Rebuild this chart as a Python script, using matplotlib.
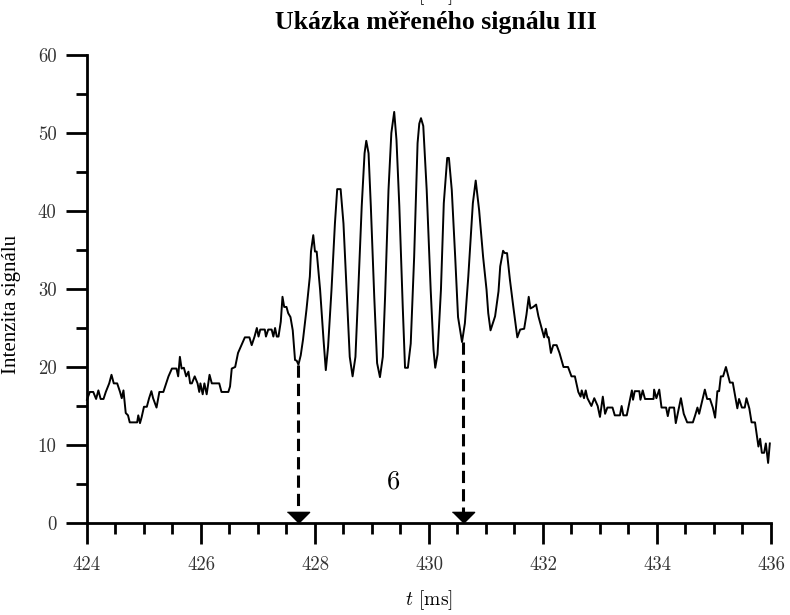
import numpy as np
import matplotlib.pyplot as plt
from matplotlib.ticker import MultipleLocator

plt.rcParams['font.family'] = ['cmr10', 'Liberation Serif']
plt.rcParams['mathtext.fontset'] = 'cm'
plt.rcParams['axes.formatter.use_mathtext'] = False

# signal (time in ms, intensity)
t_ms = [
    424.00, 424.05, 424.11, 424.16, 424.20, 424.24, 424.29, 424.33, 424.39, 424.43,
    424.47, 424.53, 424.58, 424.61, 424.64, 424.68, 424.72, 424.75, 424.88, 424.90,
    424.93, 424.96, 425.00, 425.05, 425.09, 425.13, 425.16, 425.22, 425.27, 425.34,
    425.39, 425.43, 425.49, 425.57, 425.60, 425.63, 425.66, 425.70, 425.74, 425.78,
    425.81, 425.84, 425.89, 425.94, 425.97, 425.99, 426.03, 426.06, 426.10, 426.15,
    426.19, 426.32, 426.36, 426.48, 426.51, 426.54, 426.60, 426.65, 426.71, 426.77,
    426.85, 426.89, 426.94, 426.98, 427.01, 427.04, 427.12, 427.14, 427.18, 427.24,
    427.27, 427.30, 427.33, 427.36, 427.40, 427.43, 427.46, 427.50, 427.53, 427.57,
    427.61, 427.65, 427.68, 427.71, 427.75, 427.79, 427.85, 427.91, 427.93, 427.97,
    428.00, 428.03, 428.09, 428.15, 428.19, 428.23, 428.29, 428.35, 428.39, 428.45,
    428.50, 428.56, 428.61, 428.66, 428.71, 428.76, 428.82, 428.87, 428.90, 428.94,
    428.98, 429.04, 429.09, 429.14, 429.19, 429.23, 429.29, 429.34, 429.39, 429.43,
    429.48, 429.54, 429.58, 429.63, 429.68, 429.74, 429.80, 429.83, 429.86, 429.90,
    429.96, 430.03, 430.08, 430.11, 430.15, 430.21, 430.26, 430.32, 430.35, 430.40,
    430.46, 430.51, 430.58, 430.63, 430.69, 430.77, 430.82, 430.88, 430.95, 431.01,
    431.04, 431.08, 431.16, 431.22, 431.25, 431.30, 431.33, 431.37, 431.42, 431.48,
    431.55, 431.60, 431.67, 431.71, 431.75, 431.78, 431.83, 431.88, 431.92, 431.98,
    432.02, 432.05, 432.08, 432.10, 432.14, 432.18, 432.24, 432.29, 432.36, 432.44,
    432.50, 432.56, 432.62, 432.66, 432.68, 432.72, 432.75, 432.78, 432.85, 432.90,
    432.96, 433.00, 433.05, 433.09, 433.13, 433.22, 433.26, 433.35, 433.38, 433.41,
    433.47, 433.56, 433.58, 433.61, 433.69, 433.71, 433.75, 433.79, 433.94, 433.95,
    433.99, 434.04, 434.08, 434.16, 434.19, 434.22, 434.30, 434.33, 434.42, 434.47,
    434.53, 434.63, 434.67, 434.71, 434.74, 434.84, 434.88, 434.93, 434.98, 435.02,
    435.06, 435.09, 435.12, 435.16, 435.21, 435.28, 435.33, 435.41, 435.44, 435.49,
    435.54, 435.57, 435.62, 435.66, 435.72, 435.78, 435.81, 435.84, 435.88, 435.91,
    435.95, 435.98,
]
intensity = [
    15.8, 16.8, 16.8, 15.9, 17.0, 15.9, 15.9, 16.8, 17.9, 19.0,
    17.9, 17.9, 16.8, 16.0, 17.0, 14.1, 13.8, 12.9, 12.9, 13.8,
    12.8, 13.6, 14.9, 14.9, 16.0, 16.9, 16.0, 14.8, 16.8, 16.8,
    17.9, 18.8, 19.8, 19.8, 18.8, 21.3, 19.8, 19.9, 18.8, 19.4,
    17.9, 17.9, 18.8, 17.9, 16.8, 17.9, 16.5, 17.9, 16.5, 19.0,
    17.9, 17.9, 16.8, 16.8, 17.5, 19.8, 20.0, 21.8, 22.8, 23.8,
    23.8, 22.8, 23.9, 25.0, 23.9, 24.8, 24.8, 23.9, 24.8, 24.8,
    23.9, 25.0, 23.9, 23.9, 25.8, 29.0, 27.7, 27.7, 26.9, 26.4,
    24.7, 20.9, 20.8, 20.3, 21.5, 23.5, 27.3, 31.6, 34.8, 36.9,
    34.8, 34.8, 29.9, 23.5, 19.6, 22.6, 29.9, 38.4, 42.8, 42.8,
    38.4, 29.0, 21.3, 18.8, 21.3, 29.9, 40.6, 47.4, 49.0, 47.4,
    40.6, 29.0, 20.5, 18.7, 21.3, 29.0, 42.7, 50.0, 52.7, 49.1,
    40.6, 27.7, 19.9, 19.9, 23.0, 34.1, 48.7, 51.2, 51.9, 50.9,
    42.7, 29.9, 22.2, 19.9, 21.6, 29.9, 41.0, 46.8, 46.8, 42.7,
    34.1, 26.4, 23.2, 25.6, 31.6, 41.0, 43.9, 40.1, 34.1, 29.9,
    26.9, 24.7, 26.5, 29.7, 32.9, 34.9, 34.6, 34.6, 31.2, 27.7,
    23.8, 24.8, 24.9, 26.7, 29.0, 27.5, 27.7, 28.0, 26.5, 24.9,
    23.8, 24.9, 23.8, 23.8, 21.8, 22.8, 22.8, 21.8, 20.0, 20.0,
    18.8, 18.8, 16.8, 16.2, 17.0, 16.0, 17.0, 16.0, 15.0, 16.0,
    15.0, 13.6, 16.2, 14.0, 14.8, 14.8, 13.8, 13.8, 15.0, 13.8,
    13.8, 17.0, 15.8, 16.9, 16.9, 15.8, 17.0, 15.9, 15.9, 17.1,
    16.0, 17.1, 14.8, 14.8, 13.7, 14.8, 14.8, 12.8, 16.0, 14.0,
    12.9, 12.9, 13.8, 14.8, 14.0, 17.1, 15.9, 15.9, 14.8, 13.5,
    16.9, 16.9, 18.8, 18.8, 20.0, 18.0, 18.0, 14.7, 15.9, 14.8,
    14.8, 16.0, 14.7, 12.9, 12.9, 9.8, 10.8, 9.0, 9.0, 10.2,
    7.7, 10.2,
]

# marked minima (dashed arrows down to the axis)
arrow_t = [427.70, 430.59]
arrow_top = [20.3, 23.2]
period_label = "6"
period_pos = (429.37, 5.3)

fig = plt.figure(figsize=(7.9, 6.15), dpi=100)
ax = fig.add_axes([0.1101, 0.1496, 0.8658, 0.7610])

ax.plot(t_ms, intensity, color="black", linewidth=1.4, clip_on=False)

# dashed lines + filled triangle heads with the tip on the axis
tri = [(-1.0, 1.0), (1.0, 1.0), (0.0, 0.0)]
for t, top in zip(arrow_t, arrow_top):
    ax.plot([t, t], [top, 0.6], color="black", linewidth=2.2, dashes=(4, 2))
    ax.plot([t], [0], marker=tri, markersize=16, color="black",
            linestyle="none", clip_on=False, zorder=5)

ax.text(period_pos[0], period_pos[1], period_label, ha="center", va="center",
        fontsize=19, family="cmr10")

ax.set_xlim(424, 436)
ax.set_ylim(0, 60)
ax.xaxis.set_major_locator(MultipleLocator(2))
ax.xaxis.set_minor_locator(MultipleLocator(0.5))
ax.yaxis.set_major_locator(MultipleLocator(10))
ax.yaxis.set_minor_locator(MultipleLocator(5))

for side in ["top", "right"]:
    ax.spines[side].set_visible(False)
for side in ["left", "bottom"]:
    ax.spines[side].set_linewidth(2)
ax.tick_params(which="major", length=15, width=2, labelsize=13.5, pad=7,
               colors="black", labelcolor="#333333")
ax.tick_params(which="minor", length=8, width=2)
ax.tick_params(axis="x", which="major", pad=9)
for lbl in ax.get_xticklabels() + ax.get_yticklabels():
    lbl.set_family("cmr10")

ax.set_ylabel("Intenzita signálu", fontsize=15, family="Liberation Serif")
ax.yaxis.set_label_coords(-0.097, 0.466)
ax.set_xlabel(r"$t$ [ms]", fontsize=14)
ax.xaxis.set_label_coords(0.5, -0.14)

fig.text(0.552, 1 - 23 / 615, "Ukázka měřeného signálu III",
         family="Liberation Serif", fontweight="bold",
         fontsize=18.5, ha="center", va="center")

# bottom of the previous chart's axis label, cut off by the top edge
fig.text(0.5435, 1.0, r"$t$ [ms]", fontsize=14, ha="center", va="baseline")

fig.savefig("out.png", dpi=100)
